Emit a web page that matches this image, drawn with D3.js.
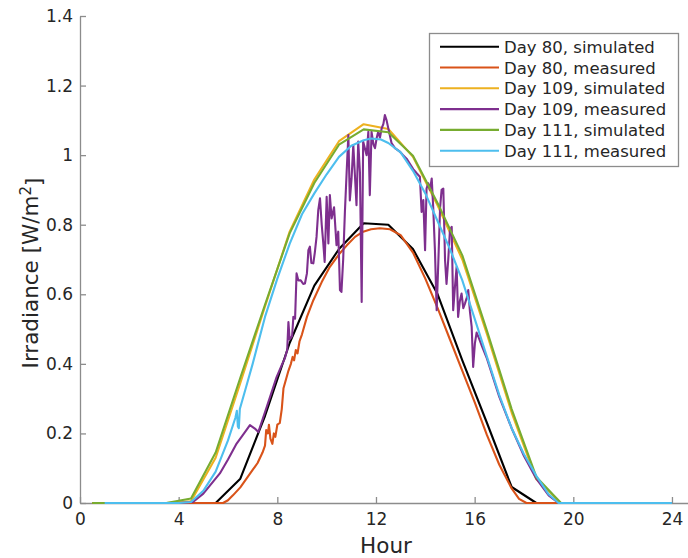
<!DOCTYPE html>
<html>
<head>
<meta charset="utf-8">
<script src="https://cdn.jsdelivr.net/npm/d3@7"></script>
<style>
  body { margin: 0; background: #fff; }
  text { font-family: "DejaVu Sans", sans-serif; fill: #262626; }
</style>
</head>
<body>
<div id="chart"></div>
<script>
// Hourly simulated values (at half hours)
const simHours = [0.5, 1.5, 2.5, 3.5, 4.5, 5.5, 6.5, 7.5, 8.5, 9.5, 10.5, 11.5,
                  12.5, 13.5, 14.5, 15.5, 16.5, 17.5, 18.5, 19.5, 20.5, 21.5, 22.5, 23.5];
const day80Sim  = [0, 0, 0, 0, 0, 0, 0.07, 0.25, 0.46, 0.625, 0.73, 0.804,
                   0.80, 0.73, 0.60, 0.41, 0.23, 0.046, 0, 0, 0, 0, 0, 0];
const day109Sim = [0, 0, 0, 0, 0.005, 0.13, 0.345, 0.565, 0.78, 0.93, 1.04, 1.089,
                   1.075, 0.995, 0.855, 0.70, 0.485, 0.26, 0.068, 0, 0, 0, 0, 0];
const day111Sim = [0, 0, 0, 0, 0.013, 0.145, 0.36, 0.57, 0.775, 0.92, 1.03, 1.074,
                   1.066, 0.998, 0.862, 0.712, 0.495, 0.27, 0.075, 0, 0, 0, 0, 0];

// Measured series as [hour, irradiance]
const day80Meas = [[1.0,0],[5.8,0],[6.0,0.008],[6.2,0.022],[6.5,0.045],[6.8,0.075],[7.0,0.095],
  [7.2,0.115],[7.4,0.145],[7.5,0.165],[7.55,0.21],[7.62,0.2],[7.66,0.225],[7.72,0.185],[7.8,0.17],
  [7.86,0.2],[7.92,0.19],[8.0,0.225],[8.1,0.23],[8.18,0.27],[8.25,0.33],[8.35,0.355],[8.45,0.38],
  [8.55,0.40],[8.62,0.42],[8.68,0.41],[8.75,0.44],[8.82,0.43],[8.9,0.465],[9.0,0.485],[9.2,0.535],
  [9.46,0.583],[9.8,0.635],[10.13,0.679],[10.5,0.715],[10.81,0.74],[11.15,0.765],[11.48,0.78],
  [11.8,0.787],[12.16,0.79],[12.57,0.787],[13.0,0.77],[13.5,0.72],[14.0,0.645],[14.5,0.56],
  [15.0,0.47],[15.5,0.38],[16.0,0.29],[16.5,0.195],[17.0,0.11],[17.5,0.042],[17.8,0.012],[18.1,0],[24,0]];

const day109Meas = [[1.0,0],[4.0,0],[4.58,0.003],[5.0,0.027],[5.67,0.085],[6.0,0.125],[6.35,0.171],
  [6.6,0.195],[6.89,0.224],[7.09,0.214],[7.23,0.204],[7.4,0.24],[7.57,0.276],[7.97,0.362],[8.2,0.4],
  [8.3,0.415],[8.4,0.44],[8.45,0.52],[8.5,0.47],[8.6,0.48],[8.65,0.535],[8.72,0.53],[8.78,0.66],
  [8.85,0.64],[8.95,0.64],[9.05,0.63],[9.12,0.631],[9.2,0.66],[9.26,0.727],[9.32,0.737],[9.38,0.69],
  [9.46,0.689],[9.52,0.72],[9.59,0.765],[9.66,0.842],[9.73,0.876],[9.8,0.8],[9.86,0.75],[9.92,0.693],
  [10.0,0.88],[10.07,0.746],[10.13,0.885],[10.2,0.818],[10.3,0.85],[10.4,0.741],[10.47,0.78],
  [10.54,0.612],[10.6,0.607],[10.67,0.7],[10.74,0.837],[10.81,0.95],[10.88,1.058],[10.94,0.87],
  [11.01,0.933],[11.08,1.029],[11.14,0.95],[11.21,0.856],[11.28,1.039],[11.35,0.95],[11.42,0.578],
  [11.48,1.039],[11.55,1.02],[11.62,1.0],[11.69,1.067],[11.75,0.885],[11.82,1.067],[11.9,1.03],
  [11.96,1.02],[12.03,1.05],[12.09,1.067],[12.16,1.05],[12.23,1.077],[12.3,1.09],[12.36,1.115],
  [12.43,1.1],[12.5,1.077],[12.63,1.035],[12.77,1.02],[12.97,1.01],[13.1,1.0],[13.24,0.99],
  [13.4,0.972],[13.51,0.96],[13.65,0.948],[13.78,0.938],[13.85,0.837],[13.92,0.871],[13.99,0.727],
  [14.05,0.904],[14.12,0.919],[14.19,0.9],[14.26,0.933],[14.32,0.85],[14.39,0.727],[14.46,0.554],
  [14.53,0.698],[14.6,0.85],[14.66,0.9],[14.73,0.904],[14.8,0.698],[14.86,0.63],[14.93,0.7],
  [15.0,0.785],[15.07,0.794],[15.13,0.554],[15.2,0.62],[15.27,0.679],[15.33,0.535],[15.4,0.58],
  [15.47,0.602],[15.54,0.56],[15.61,0.574],[15.68,0.59],[15.74,0.612],[15.81,0.55],[15.88,0.506],
  [15.94,0.391],[16.01,0.459],[16.08,0.49],[16.15,0.478],[16.3,0.45],[16.5,0.415],[17.0,0.305],
  [17.5,0.215],[18.0,0.135],[18.5,0.07],[19.0,0.022],[19.4,0],[24,0]];

const day111Meas = [[1.0,0],[4.0,0],[4.5,0.003],[5.0,0.035],[5.5,0.09],[6.0,0.18],[6.3,0.245],
  [6.36,0.265],[6.4,0.22],[6.44,0.215],[6.48,0.27],[6.7,0.325],[7.0,0.40],[7.5,0.535],[8.0,0.645],
  [8.5,0.745],[9.0,0.83],[9.5,0.89],[10.0,0.945],[10.5,0.995],[11.0,1.027],[11.5,1.043],[11.8,1.048],
  [12.2,1.045],[12.5,1.035],[13.0,1.008],[13.5,0.955],[14.0,0.89],[14.5,0.81],[15.0,0.73],
  [15.5,0.64],[16.0,0.53],[16.5,0.42],[17.0,0.31],[17.5,0.215],[18.0,0.14],[18.5,0.078],
  [19.0,0.025],[19.4,0],[24,0]];

const seriesNames = ["Day 80, simulated", "Day 80, measured", "Day 109, simulated",
                     "Day 109, measured", "Day 111, simulated", "Day 111, measured"];
const seriesColors = ["#000000", "#D95319", "#EDB120", "#7E2F8E", "#77AC30", "#4DBEEE"];
const xTicks = [0, 4, 8, 12, 16, 20, 24];
const yTicks = [0, 0.2, 0.4, 0.6, 0.8, 1, 1.2, 1.4];

const width = 688, height = 558;
const svg = d3.select("#chart").append("svg")
  .attr("width", width)
  .attr("height", height);

// Scales
const x = d3.scaleLinear().domain([0, 24.65]).range([80, 688]);
const y = d3.scaleLinear().domain([0, 1.4]).range([503, 16]);

const toPairs = vals => simHours.map((h, i) => [h, vals[i]]);
const allSeries = [
  toPairs(day80Sim), day80Meas,
  toPairs(day109Sim), day109Meas,
  toPairs(day111Sim), day111Meas
];

// Axes (ticks point inward, MATLAB style)
const xAxis = svg.append("g")
  .attr("transform", `translate(0,${y(0)})`)
  .call(d3.axisBottom(x).tickValues(xTicks).tickSizeInner(-6).tickSizeOuter(0).tickPadding(10));
const yAxis = svg.append("g")
  .attr("transform", `translate(${x(0)},0)`)
  .call(d3.axisLeft(y).tickValues(yTicks).tickFormat(d => String(d)).tickSizeInner(-6).tickSizeOuter(0).tickPadding(7));

[xAxis, yAxis].forEach(a => {
  a.select(".domain").attr("stroke", "#8c8c8c").attr("stroke-width", 1.3);
  a.selectAll(".tick line").attr("stroke", "#8c8c8c").attr("stroke-width", 1.3);
  a.selectAll(".tick text").attr("fill", "#262626")
    .style("font-size", "17px").style("font-family", "DejaVu Sans");
});

// Lines
const line = d3.line().x(d => x(d[0])).y(d => y(d[1]));
svg.append("g").selectAll("path")
  .data(allSeries)
  .enter().append("path")
  .attr("d", line)
  .attr("fill", "none")
  .attr("stroke", (d, i) => seriesColors[i])
  .attr("stroke-width", 2.1)
  .attr("stroke-linejoin", "round");

// Axis labels
svg.append("text")
  .attr("x", 386)
  .attr("y", 553)
  .attr("text-anchor", "middle")
  .style("font-size", "21.5px")
  .text("Hour");

const yl = svg.append("text")
  .attr("transform", `translate(38,273) rotate(-90)`)
  .attr("text-anchor", "middle")
  .style("font-size", "21.5px");
yl.append("tspan").text("Irradiance [W/m");
yl.append("tspan").attr("dy", "-0.45em").style("font-size", "15px").text("2");
yl.append("tspan").attr("dy", "0.45em").text("]");

// Legend
const legend = svg.append("g");
legend.append("rect")
  .attr("x", 429.5).attr("y", 33.5)
  .attr("width", 249).attr("height", 133)
  .attr("fill", "#fff")
  .attr("stroke", "#8c8c8c")
  .attr("stroke-width", 1.3);

const rows = legend.selectAll("g.row")
  .data(seriesNames)
  .enter().append("g")
  .attr("class", "row")
  .attr("transform", (d, i) => `translate(0,${46.7 + i * 20.8})`);
rows.append("line")
  .attr("x1", 440).attr("x2", 499)
  .attr("stroke", (d, i) => seriesColors[i])
  .attr("stroke-width", 2.1);
rows.append("text")
  .attr("x", 504)
  .attr("y", 6)
  .style("font-size", "16.5px")
  .text(d => d);
</script>
</body>
</html>
